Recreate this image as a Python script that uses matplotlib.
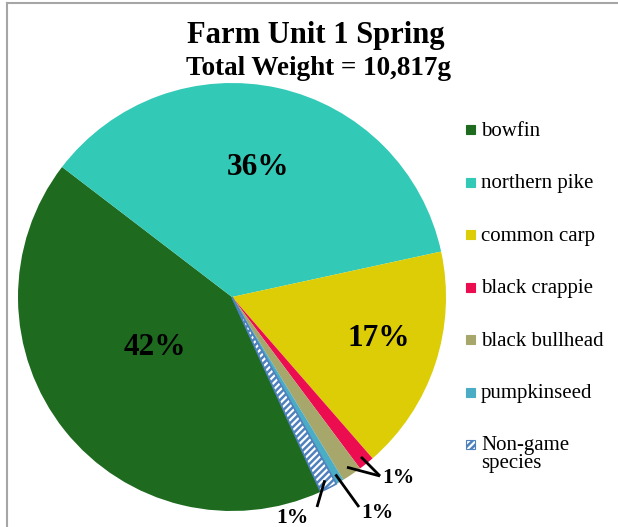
import matplotlib
matplotlib.use("Agg")
import matplotlib.pyplot as plt
from matplotlib.patches import Rectangle
import numpy as np

plt.rcParams['font.family'] = ['Liberation Serif', 'DejaVu Serif']
plt.rcParams['hatch.linewidth'] = 1.8

# ---- data ----
species = ["bowfin", "northern pike", "common carp", "black crappie",
           "black bullhead", "pumpkinseed", "Non-game\nspecies"]
percent = [42.2, 36.2, 17.0, 1.2, 1.5, 0.6, 1.3]
colors = ["#1E6B20", "#33C9B7", "#DCCD06", "#EC0D50", "#A7A66B", "#4BACC6", "white"]
title = "Farm Unit 1 Spring"
subtitle = "Total Weight = 10,817g"

W, H = 618, 527
fig = plt.figure(figsize=(W / 100, H / 100), dpi=100)

def fx(x):
    return x / W

def fy(y):
    return 1 - y / H

# chart border
fig.add_artist(plt.Line2D([fx(7), fx(7)], [fy(3), fy(527)], color="#A6A6A6", lw=1.5))
fig.add_artist(plt.Line2D([fx(7), fx(618)], [fy(3), fy(3)], color="#A6A6A6", lw=1.5))

cx, cy, R = 232, 297, 214
ax = fig.add_axes([fx(cx - R), fy(cy + R), 2 * R / W, 2 * R / H])
wedges, _ = ax.pie(percent, colors=colors, startangle=-65.5, counterclock=False,
                   radius=1, wedgeprops=dict(linewidth=0))
ng = wedges[-1]
ng.set_hatch("/////")
ng.set_edgecolor("#4F81BD")
ng.set_linewidth(1.2)
ax.set_xlim(-1, 1)
ax.set_ylim(-1, 1)
ax.set_aspect("auto")
ax.axis("off")

def mid(w):
    return np.deg2rad((w.theta1 + w.theta2) / 2)

def d(px, py):
    return ((px - cx) / R, (cy - py) / R)

def pct(p):
    return f"{max(1, int(p)):.0f}%"

# big labels (centre x, baseline y in pixels)
big_pos = [(155, 355), (258, 175), (379, 346)]
for p, (px, py) in zip(percent[:3], big_pos):
    x, y = d(px, py)
    ax.text(x, y, pct(p), ha="center", va="baseline", fontsize=22.5, fontweight="bold")

# small labels with leader lines
def leader(w, end, r=0.96):
    a = mid(w)
    ax.plot([r * np.cos(a), end[0]], [r * np.sin(a), end[1]], color="black", lw=2,
            clip_on=False, solid_capstyle="butt")

e = d(380, 476)
leader(wedges[3], e)
leader(wedges[4], e)
t = d(398, 483)
ax.text(t[0], t[1], pct(percent[3]), ha="center", va="baseline", fontsize=15.5,
        fontweight="bold")

e = d(359, 507)
leader(wedges[5], e)
t = d(377, 518)
ax.text(t[0], t[1], pct(percent[5]), ha="center", va="baseline", fontsize=15.5,
        fontweight="bold")

e = d(317, 507)
leader(wedges[6], e)
t = d(292, 523)
ax.text(t[0], t[1], pct(percent[6]), ha="center", va="baseline", fontsize=15.5,
        fontweight="bold")

# titles
fig.text(fx(316), fy(43), title, ha="center", va="baseline", fontsize=22, fontweight="bold")
fig.text(fx(318), fy(75), subtitle, ha="center", va="baseline", fontsize=19.5, fontweight="bold")

# legend
for i, (lab, c) in enumerate(zip(species, colors)):
    y = 136 + i * 52.4
    rect = Rectangle((fx(466), fy(y - 1.5)), 9 / W, 9 / H, transform=fig.transFigure,
                     facecolor=c, edgecolor="#4F81BD" if c == "white" else c, lw=0.8,
                     hatch="/////" if c == "white" else None)
    fig.add_artist(rect)
    for j, line in enumerate(lab.split("\n")):
        fig.text(fx(481), fy(y + j * 18), line, ha="left", va="baseline", fontsize=15)

fig.savefig("out.png", dpi=100)
